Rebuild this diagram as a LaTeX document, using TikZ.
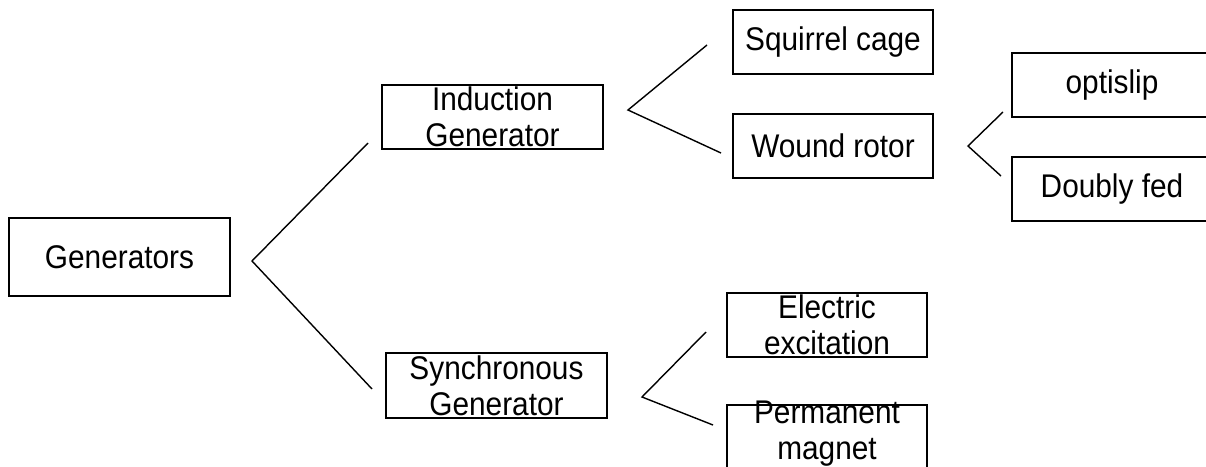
\documentclass[tikz,border=0pt]{standalone}
\usepackage{fontspec}
\setmainfont{Liberation Sans}
\usepackage{tikz}

\begin{document}
\begin{tikzpicture}[x=0.025cm, y=-0.025cm,
  box/.style={draw, line width=1.1pt, inner sep=0pt,
              minimum width=5cm, minimum height=1.6cm},
  wbox/.style={box, minimum width=5.525cm},
  txt/.style={font=\fontsize{21.2}{23.4}\selectfont, align=center, inner sep=0pt,
              yscale=1.1, transform shape},
  link/.style={line width=1pt},
]
\useasboundingbox (0,0) rectangle (1206,467);

% ---- Root ------------------------------------------------------------------
\node[wbox, minimum height=1.95cm, label={[txt]center:Generators}] (gen) at (119.5,257) {};

% ---- Main types --------------------------------------------------------------
\node[wbox, label={[txt]center:{Induction\\Generator}}] (ind) at (492.5,117) {};
\node[wbox, minimum height=1.625cm, label={[txt]center:{Synchronous\\Generator}}] (syn) at (496.5,385.5) {};

% ---- Induction subtypes ------------------------------------------------------
\node[box, label={[txt]center:Squirrel cage}] (sqc) at (833,42) {};
\node[box, label={[txt]center:Wound rotor}] (wrot) at (833,146) {};

% ---- Wound rotor subtypes ----------------------------------------------------
\node[box, label={[txt]center:optislip}] (opt) at (1112,85) {};
\node[box, label={[txt]center:Doubly fed}] (dfed) at (1112,189) {};

% ---- Synchronous subtypes ----------------------------------------------------
\node[box, label={[txt]center:{Electric\\excitation}}] (elex) at (827,325) {};
\node[box, label={[txt, yshift=2pt]center:{Permanent\\magnet}}] (pmag) at (827,437) {};

% ---- Branch points -----------------------------------------------------------
\coordinate (genFork) at (252,261);
\coordinate (genUp)   at (368,143);
\coordinate (genDn)   at (372,389);
\coordinate (indFork) at (628,110);
\coordinate (indUp)   at (707,45);
\coordinate (indDn)   at (721,153);
\coordinate (wrFork)  at (968,146);
\coordinate (wrUp)    at (1003,112);
\coordinate (wrDn)    at (1001,176);
\coordinate (synFork) at (642,397);
\coordinate (synUp)   at (706,332);
\coordinate (synDn)   at (713,425);

\draw[link] (genUp) -- (genFork) -- (genDn);
\draw[link] (indUp) -- (indFork) -- (indDn);
\draw[link] (wrUp) -- (wrFork) -- (wrDn);
\draw[link] (synUp) -- (synFork) -- (synDn);

\end{tikzpicture}
\end{document}
